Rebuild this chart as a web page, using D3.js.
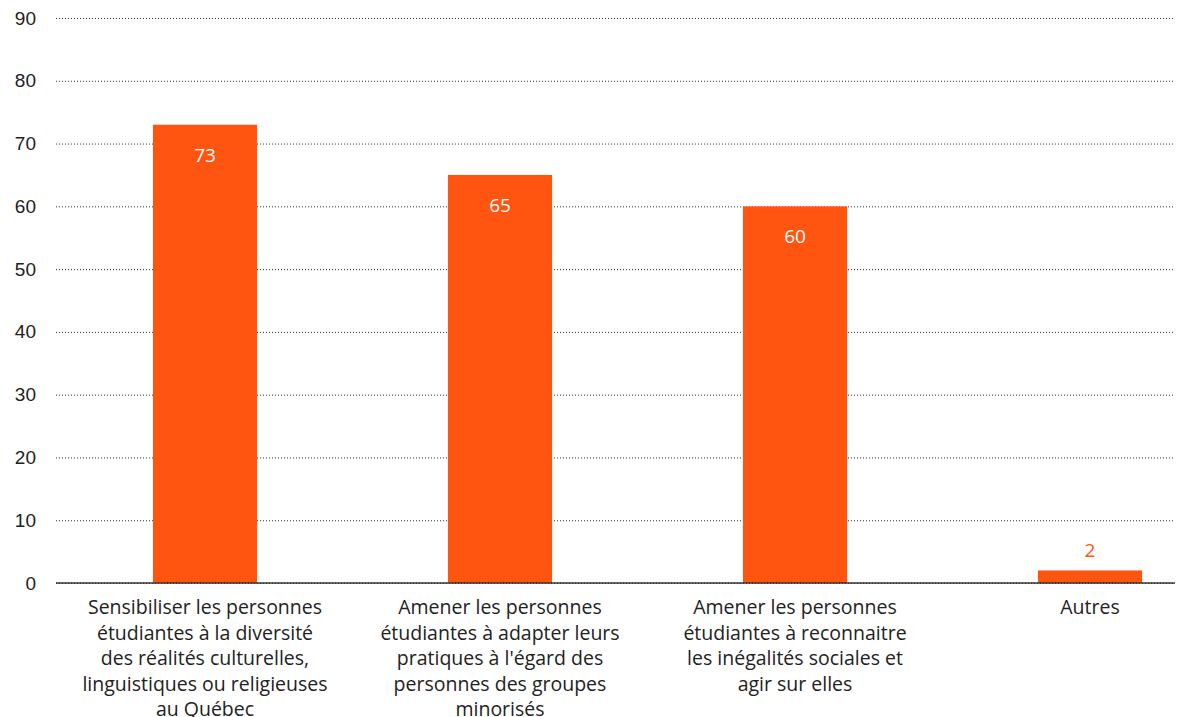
<!DOCTYPE html>
<html>
<head>
<meta charset="utf-8">
<script src="https://cdn.jsdelivr.net/npm/d3@7"></script>
<style>
  html, body { margin: 0; padding: 0; background: #fff; }
  svg { display: block; font-family: "Open Sans", "Noto Sans", sans-serif; }
</style>
</head>
<body>
<svg id="chart" width="1177" height="717"></svg>
<script>
// Categories (line breaks mark how each axis label wraps)
const categories = [
  "Sensibiliser les personnes\nétudiantes à la diversité\ndes réalités culturelles,\nlinguistiques ou religieuses\nau Québec",
  "Amener les personnes\nétudiantes à adapter leurs\npratiques à l'égard des\npersonnes des groupes\nminorisés",
  "Amener les personnes\nétudiantes à reconnaitre\nles inégalités sociales et\nagir sur elles",
  "Autres"
];
const values = [73, 65, 60, 2];
const yTicks = [0, 10, 20, 30, 40, 50, 60, 70, 80, 90];

const barColor = "#FF5511";
const svg = d3.select("#chart");

const plotLeft = 56, plotRight = 1175;
const y = d3.scaleLinear().domain([0, 90]).range([583, 18]);

const x = d3.scaleBand()
  .domain(categories)
  .range([57.5, 1237.5])
  .paddingInner(0.647)
  .paddingOuter(0.3235);

// Gridlines and y tick labels
const yAxis = d3.axisLeft(y)
  .tickValues(yTicks)
  .tickSize(-(plotRight - plotLeft));

const gy = svg.append("g")
  .attr("transform", `translate(${plotLeft},0)`)
  .call(yAxis);
gy.select(".domain").remove();
gy.selectAll(".tick line")
  .attr("stroke", "#333")
  .attr("stroke-width", 1)
  .attr("stroke-dasharray", "1,2");
gy.selectAll(".tick text")
  .attr("fill", "#222")
  .attr("font-size", 19)
  .attr("x", -20);

// Bars
svg.append("g").selectAll("rect")
  .data(values)
  .join("rect")
  .attr("x", (d, i) => x(categories[i]))
  .attr("y", d => y(d))
  .attr("width", x.bandwidth())
  .attr("height", d => y(0) - y(d))
  .attr("fill", barColor);

// Baseline
svg.append("line")
  .attr("x1", plotLeft).attr("x2", plotRight)
  .attr("y1", y(0)).attr("y2", y(0))
  .attr("stroke", "#333").attr("stroke-width", 1.5);

// Value labels: inside tall bars, above short ones
svg.append("g").selectAll("text")
  .data(values)
  .join("text")
  .attr("x", (d, i) => x(categories[i]) + x.bandwidth() / 2)
  .attr("y", d => (y(0) - y(d) > 40) ? y(d) + 37 : y(d) - 13)
  .attr("text-anchor", "middle")
  .attr("font-size", 19)
  .attr("fill", d => (y(0) - y(d) > 40) ? "#fff" : barColor)
  .text(d => d);

// Category labels
const xAxis = svg.append("g");
categories.forEach(cat => {
  const t = xAxis.append("text")
    .attr("text-anchor", "middle")
    .attr("font-size", 19.5)
    .attr("fill", "#222");
  cat.split("\n").forEach((line, j) => {
    t.append("tspan")
      .attr("x", x(cat) + x.bandwidth() / 2)
      .attr("y", 614 + j * 25.5)
      .text(line);
  });
});
</script>
</body>
</html>
